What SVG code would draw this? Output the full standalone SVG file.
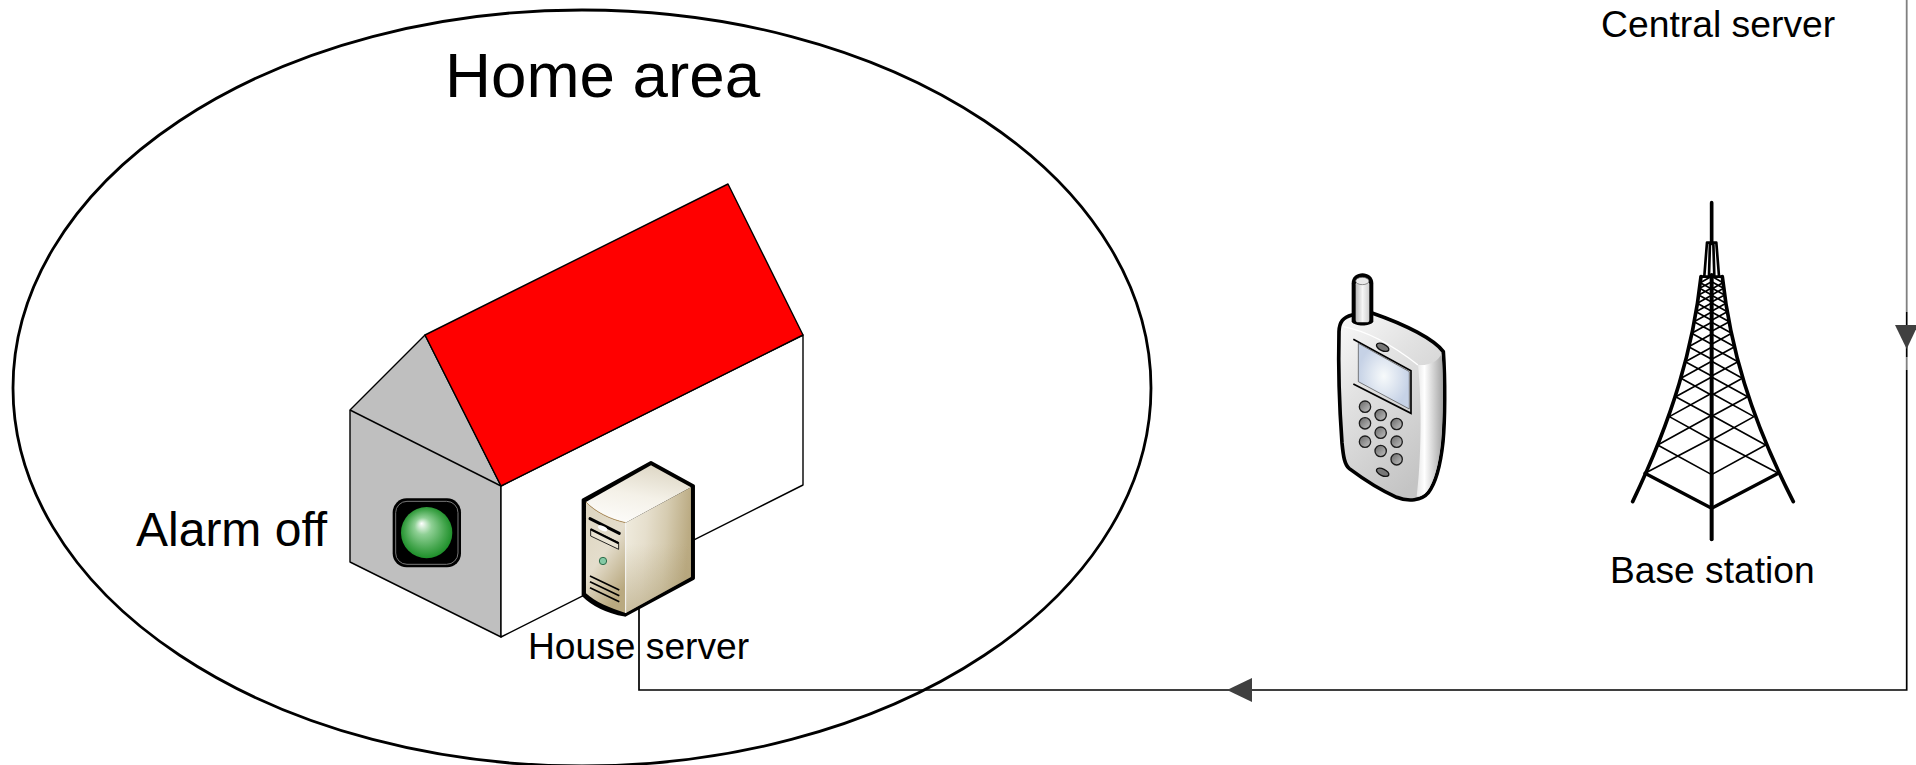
<svg xmlns="http://www.w3.org/2000/svg" width="1916" height="765" viewBox="0 0 1916 765">
<style>
text{font-family:"Liberation Sans",Arial,sans-serif;fill:#000}
.h{stroke:#000;stroke-width:1.4;stroke-linejoin:round}
.k{fill:url(#key);stroke:#1c1c1c;stroke-width:4}
.c{fill:none;stroke:#000;stroke-width:1.7}
.arrow{fill:#404040}
.t{fill:none;stroke:#000;stroke-linecap:round;stroke-linejoin:round}
</style>
<defs>
<linearGradient id="stop" x1=".75" y1="0" x2=".4" y2="1"><stop offset="0" stop-color="#ddd6c4"/><stop offset=".55" stop-color="#f4f1e8"/><stop offset="1" stop-color="#fcfbf8"/></linearGradient>
<linearGradient id="sright" x1="0" y1="0" x2="1" y2=".15"><stop offset="0" stop-color="#f0ecdf"/><stop offset=".35" stop-color="#e6dfcd"/><stop offset=".65" stop-color="#d6ccb1"/><stop offset="1" stop-color="#bbab83"/></linearGradient>
<linearGradient id="sshade" x1="0" y1="0" x2="0" y2="1"><stop offset=".45" stop-color="#a8976a" stop-opacity="0"/><stop offset="1" stop-color="#a8976a" stop-opacity=".5"/></linearGradient>
<linearGradient id="sfront" x1="0" y1="0" x2=".5" y2="1"><stop offset="0" stop-color="#ddd5bf"/><stop offset=".55" stop-color="#e4ddcc"/><stop offset="1" stop-color="#b9a980"/></linearGradient>
<radialGradient id="led" cx=".5" cy=".5" r=".55" fx=".4" fy=".32"><stop offset="0" stop-color="#fff"/><stop offset=".3" stop-color="#8fd095"/><stop offset=".7" stop-color="#45a64e"/><stop offset="1" stop-color="#12891f"/></radialGradient>
<linearGradient id="pside" x1="0" y1="0" x2="1" y2="0"><stop offset="0" stop-color="#e6e6e6"/><stop offset=".3" stop-color="#fff"/><stop offset=".65" stop-color="#d2d2d2"/><stop offset="1" stop-color="#a4a4a4"/></linearGradient>
<linearGradient id="pbody" x1="0" y1="0" x2=".55" y2="1"><stop offset="0" stop-color="#fafafa"/><stop offset=".4" stop-color="#e2e2e2"/><stop offset="1" stop-color="#c4c4c4"/></linearGradient>
<radialGradient id="screen"><stop offset="0" stop-color="#f7fafb"/><stop offset="1" stop-color="#c6d2e6"/></radialGradient>
<linearGradient id="key" x1="0" y1="0" x2="1" y2="1"><stop offset="0" stop-color="#666"/><stop offset="1" stop-color="#c4c4c4"/></linearGradient>
<linearGradient id="ant" x1="0" y1="0" x2="1" y2="0"><stop offset="0" stop-color="#b8b8b8"/><stop offset=".5" stop-color="#f6f6f6"/><stop offset="1" stop-color="#cfcfcf"/></linearGradient>
</defs>

<g id="home-area"><ellipse cx="582" cy="388" rx="569" ry="378" fill="none" stroke="#000" stroke-width="2.8"/></g>

<g id="house">
<polygon class="h" fill="#bfbfbf" points="350,410 425,335 501,486 501,637 350,562"/>
<line class="h" x1="350" y1="410" x2="501" y2="486"/>
<polygon class="h" fill="#fff" points="501,486 803,335 803,485 501,637"/>
<polygon class="h" fill="#ff0000" points="425,335 728,184 803,335 501,486"/>
</g>

<g id="alarm-light" transform="translate(380,490) scale(.3333)">
<rect x="38" y="25" width="205" height="207" rx="42" fill="#000"/>
<rect x="47" y="34" width="187" height="189" rx="34" fill="none" stroke="#777" stroke-width="3"/>
<circle cx="140" cy="128" r="77" fill="url(#led)"/>
</g>

<g id="house-server" transform="translate(340,440) scale(.3333)">
<path d="M933,68 L1060,138 V415 L855,525 C805,515 760,495 730,465 V180 Z" fill="#000" stroke="#000" stroke-width="10" stroke-linejoin="round"/>
<path d="M933,76 L1053,142 L857,248 C810,238 765,215 738,186 Z" fill="url(#stop)"/>
<path d="M857,248 L1053,142 V411 L857,519 Z" fill="url(#sright)"/>
<path d="M857,248 L1053,142 V411 L857,519 Z" fill="url(#sshade)"/>
<path d="M738,186 C765,215 810,238 857,248 V519 C810,505 765,485 738,460 Z" fill="url(#sfront)"/>
<path d="M738,186 C765,215 810,238 857,248" fill="none" stroke="#b08a50" stroke-width="2.5"/>
<line x1="857" y1="248" x2="857" y2="519" stroke="#fff" stroke-width="3"/>
<path d="M750,236 L838,280" stroke="#000" stroke-width="9" stroke-linecap="round" fill="none"/>
<path d="M752,267 L836,308 V328 L752,288 Z" fill="#e9e3d3" stroke="#000" stroke-width="2.5"/>
<path d="M752,268 L836,310" stroke="#000" stroke-width="7" fill="none"/>
<ellipse cx="788" cy="265" rx="15" ry="7" fill="#fff" transform="rotate(25 788 265)"/>
<circle cx="789" cy="363" r="11" fill="#84c9a5" stroke="#2c6a48" stroke-width="3"/>
<path d="M750,408 L838,450 M750,425 L838,467 M750,443 L838,485" stroke="#000" stroke-width="5" fill="none"/>
</g>

<g id="phone" transform="translate(1310,260) scale(.3333)">
<path d="M126,165 C100,172 88,185 87,215 C85,300 88,440 96,549 C100,590 104,615 118,626 C150,650 210,690 260,712 C295,726 335,722 355,698 C378,668 392,610 399,545 C405,480 406,360 400,275 C372,238 290,195 186,159 Z" fill="url(#pbody)" stroke="#000" stroke-width="11" stroke-linejoin="round"/>
<path d="M324,315 C358,318 386,302 395,281 C401,360 399,480 393,545 C387,610 372,665 352,692 C342,704 332,710 320,710 C334,600 336,430 324,315 Z" fill="url(#pside)"/>
<path d="M100,200 C180,215 260,265 324,315" fill="none" stroke="#fff" stroke-width="4"/>
<path d="M125,70 C125,30 190,30 190,70 V185 C180,200 135,200 125,185 Z" fill="#000"/>
<rect x="137" y="65" width="41" height="122" rx="8" fill="url(#ant)"/>
<ellipse cx="157" cy="63" rx="20" ry="11" fill="#e8e8e8" stroke="#555" stroke-width="2"/>
<path d="M130,238 L303,332 V460 L130,372" fill="none" stroke="#000" stroke-width="5"/>
<polygon points="145,250 298,335 298,447 145,365" fill="url(#screen)" stroke="#444" stroke-width="2"/>
<ellipse cx="218" cy="262" rx="20" ry="10" transform="rotate(25 218 262)" fill="#777" stroke="#111" stroke-width="4"/>
<ellipse cx="218" cy="637" rx="20" ry="10" transform="rotate(25 218 637)" fill="#777" stroke="#111" stroke-width="4"/>
<circle class="k" cx="165" cy="440" r="17"/><circle class="k" cx="212" cy="465" r="17"/><circle class="k" cx="260" cy="492" r="17"/>
<circle class="k" cx="165" cy="490" r="17"/><circle class="k" cx="212" cy="518" r="17"/><circle class="k" cx="260" cy="545" r="17"/>
<circle class="k" cx="165" cy="545" r="17"/><circle class="k" cx="212" cy="573" r="17"/><circle class="k" cx="260" cy="598" r="17"/>
</g>

<g id="base-station" transform="translate(1610,190) scale(.3333)">
<path class="t" stroke-width="11" d="M305,38 V160"/>
<path class="t" stroke-width="8" d="M291,158 H319 M291,158 L283,258 M319,158 L327,258 M300,158 L297,258 M310,158 L313,258 M273,260 H337"/>
<path class="t" stroke-width="12" d="M305,255 V1048"/>
<path class="t" stroke-width="11" d="M273,260 C250,470 190,680 68,935 M337,260 C360,470 420,680 550,935"/>
<path class="t" stroke-width="10" d="M105,850 L305,955 L505,850"/>
<path class="t" stroke-width="5" d="M305,745 L105,850 M305,676 L143,765 L305,854 M305,610 L178,680 L305,750 M305,561 L197,620 L305,679 M305,514 L213,565 L305,616 M305,472 L226,515 L305,558 M305,432 L236,470 L305,508 M305,397 L245,430 L305,463 M305,366 L252,395 L305,424 M305,339 L258,365 L305,391 M305,316 L262,340 L305,364 M305,294 L266,315 L305,336 M305,275 L269,295 L305,315 M305,259 L271,278 L305,297"/>
<path class="t" stroke-width="5" d="M305,745 L505,850 M305,676 L467,765 L305,854 M305,610 L432,680 L305,750 M305,561 L413,620 L305,679 M305,514 L397,565 L305,616 M305,472 L384,515 L305,558 M305,432 L374,470 L305,508 M305,397 L365,430 L305,463 M305,366 L358,395 L305,424 M305,339 L352,365 L305,391 M305,316 L348,340 L305,364 M305,294 L344,315 L305,336 M305,275 L341,295 L305,315 M305,259 L339,278 L305,297"/>
</g>

<g id="connectors">
<path class="c" d="M639,608 V690 H1906.7 V370"/>
<path class="c" d="M1906.7,312 V357"/>
<path d="M1906.7,0 V312 M1906.7,357 V370" fill="none" stroke="#808080" stroke-width="1.8"/>
<polygon class="arrow" points="1227,690 1252,678 1252,702"/>
<polygon class="arrow" points="1895,325 1918,325 1906.7,349"/>
</g>

<g id="labels">
<text x="445" y="97" font-size="63.7">Home area</text>
<text x="136" y="546" font-size="48">Alarm off</text>
<text x="528" y="659" font-size="37.2">House server</text>
<text x="1601" y="37" font-size="37.3">Central server</text>
<text x="1610" y="583" font-size="37.2">Base station</text>
</g>
</svg>
